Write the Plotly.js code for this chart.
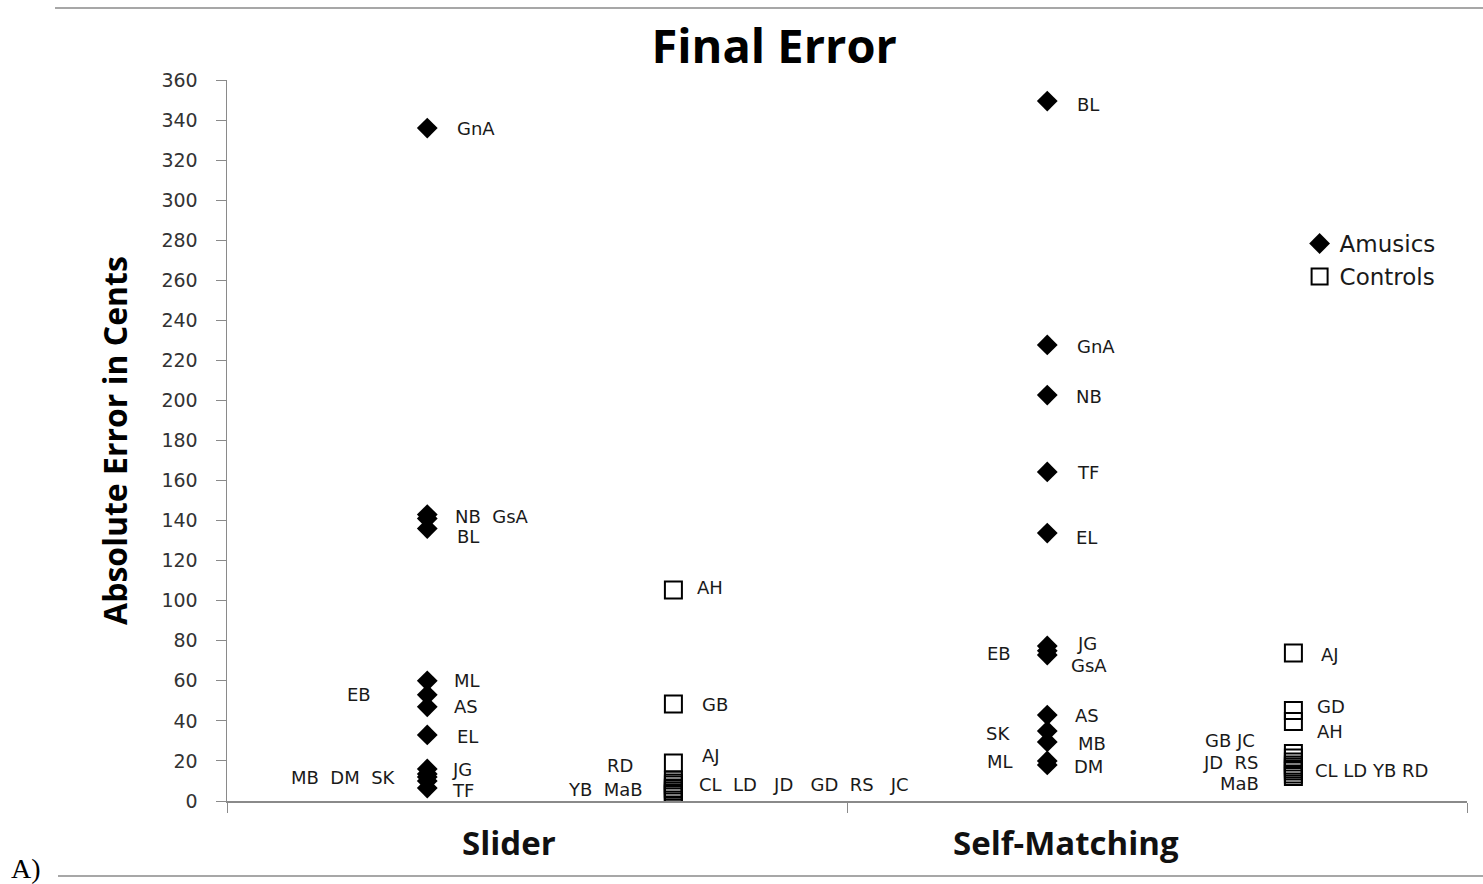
<!DOCTYPE html>
<html>
<head>
<meta charset="utf-8">
<script src="https://cdn.plot.ly/plotly-3.0.1.min.js"></script>
<style>html,body{margin:0;padding:0;background:#fff;}#chart{width:1483px;height:884px;}</style>
</head>
<body>
<div id="chart"></div>
<script>
// ---- data ----
var categories = ['Slider', 'Self-Matching'];
var seriesNames = ['Amusics', 'Controls'];

var sliderAmusicsNames  = ['GnA','NB','GsA','BL','ML','EB','AS','EL','JG','SK','DM','MB','TF'];
var sliderAmusicsValues = [336, 143, 141, 136, 60, 53, 47, 33, 16, 13.5, 12, 10, 6.5];

var sliderControlsNames  = ['AH','GB','AJ','RD','YB','MaB','CL','LD','JD','GD','RS','JC'];
var sliderControlsValues = [105.3, 48.4, 19, 10.5, 9, 8, 6.5, 6, 5, 4, 3.5, 3];

var selfAmusicsNames  = ['BL','GnA','NB','TF','EL','JG','EB','GsA','AS','SK','MB','ML','DM'];
var selfAmusicsValues = [349.5, 227.7, 202.7, 164.3, 133.8, 77.4, 75, 72.9, 42.9, 34.9, 29.5, 20, 18];

var selfControlsNames  = ['AJ','GD','AH','GB','JC','JD','RS','MaB','CL','LD','YB','RD'];
var selfControlsValues = [73.9, 45.2, 39.7, 23.7, 21.5, 19.5, 18, 17, 16, 15, 13.5, 12.2];

var yTickValues = [0,20,40,60,80,100,120,140,160,180,200,220,240,260,280,300,320,340,360];

// ---- layout helpers ----
var groupOffset = {Amusics: -0.177, Controls: 0.22};
function xFor(catIndex, series) { return catIndex + 0.5 + groupOffset[series]; }
function filled(n, v) { var a = []; for (var i = 0; i < n; i++) a.push(v); return a; }

var groups = {
  sA: {cat: 0, series: 'Amusics',  names: sliderAmusicsNames,  values: sliderAmusicsValues},
  sC: {cat: 0, series: 'Controls', names: sliderControlsNames, values: sliderControlsValues},
  mA: {cat: 1, series: 'Amusics',  names: selfAmusicsNames,    values: selfAmusicsValues},
  mC: {cat: 1, series: 'Controls', names: selfControlsNames,   values: selfControlsValues}
};

var diamondMarker = {symbol: 'diamond', size: 16, color: '#000', line: {width: 0}};
var squareMarker  = {symbol: 'square', size: 17, color: 'rgba(255,255,255,0)', line: {color: '#000', width: 2}};

var traces = [
  {type: 'scatter', mode: 'markers', name: seriesNames[0],
   x: filled(sliderAmusicsValues.length, xFor(0,'Amusics')).concat(filled(selfAmusicsValues.length, xFor(1,'Amusics'))),
   y: sliderAmusicsValues.concat(selfAmusicsValues),
   text: sliderAmusicsNames.concat(selfAmusicsNames),
   marker: diamondMarker, hoverinfo: 'text+y'},
  {type: 'scatter', mode: 'markers', name: seriesNames[1],
   x: filled(sliderControlsValues.length, xFor(0,'Controls')).concat(filled(selfControlsValues.length, xFor(1,'Controls'))),
   y: sliderControlsValues.concat(selfControlsValues),
   text: sliderControlsNames.concat(selfControlsNames),
   marker: squareMarker, hoverinfo: 'text+y'}
];

// label groups: which points a text refers to, on which side, pixel nudges
var S = '\u00a0';
var S2 = S + S;
var labelSpecs = [
  ['sA', ['GnA'], 'r', 28, 0],
  ['sA', ['NB','GsA'], 'r', 26, 0, 'NB' + S2 + 'GsA'],
  ['sA', ['BL'], 'r', 28, -8],
  ['sA', ['ML'], 'r', 25, 0],
  ['sA', ['EB'], 'l', -54, 0],
  ['sA', ['AS'], 'r', 25, 0],
  ['sA', ['EL'], 'r', 28, -2],
  ['sA', ['MB','DM','SK'], 'l', -29, 0, 'MB' + S2 + 'DM' + S2 + 'SK'],
  ['sA', ['JG'], 'r', 23, -1],
  ['sA', ['TF'], 'r', 23, -3],

  ['sC', ['AH'], 'r', 22, 3],
  ['sC', ['GB'], 'r', 27, 0],
  ['sC', ['AJ'], 'r', 27, 7],
  ['sC', ['RD'], 'l', -38, 14],
  ['sC', ['YB','MaB'], 'l', -28, -6, 'YB' + S2 + 'MaB'],
  ['sC', ['CL','LD','JD','GD','RS','JC'], 'r', 24, 7, 'CL' + S2 + 'LD' + S2 + S + 'JD' + S2 + S + 'GD' + S2 + 'RS' + S2 + S + 'JC'],

  ['mA', ['BL'], 'r', 28, -3],
  ['mA', ['GnA'], 'r', 28, -2],
  ['mA', ['NB'], 'r', 27, -1],
  ['mA', ['TF'], 'r', 28, -1],
  ['mA', ['EL'], 'r', 27, -4],
  ['mA', ['JG'], 'r', 28, 2],
  ['mA', ['EB'], 'l', -34, -3],
  ['mA', ['GsA'], 'r', 22, -10],
  ['mA', ['AS'], 'r', 26, 0],
  ['mA', ['SK'], 'l', -35, -2],
  ['mA', ['MB'], 'r', 29, -2],
  ['mA', ['ML'], 'l', -32, -1],
  ['mA', ['DM'], 'r', 25, -2],

  ['mC', ['AJ'], 'r', 26, -2],
  ['mC', ['GD'], 'r', 22, 4],
  ['mC', ['AH'], 'r', 22, -10],
  ['mC', ['GB','JC'], 'l', -36, 15, 'GB' + S + 'JC'],
  ['mC', ['JD','RS'], 'l', -32, 1, 'JD' + S2 + 'RS'],
  ['mC', ['MaB'], 'l', -32, -17],
  ['mC', ['CL','LD','YB','RD'], 'r', 20, 2, 'CL' + S + 'LD' + S + 'YB' + S + 'RD']
];

var labelFont = {family: 'DejaVu Sans, Verdana, sans-serif', size: 18, color: '#1a1a1a'};
var annotations = labelSpecs.map(function (s) {
  var g = groups[s[0]];
  var sum = 0;
  s[1].forEach(function (n) { sum += g.values[g.names.indexOf(n)]; });
  return {
    xref: 'x', yref: 'y', x: xFor(g.cat, g.series), y: sum / s[1].length,
    text: s[5] || s[1].join(S), showarrow: false,
    xanchor: s[2] === 'r' ? 'left' : 'right', yanchor: 'middle',
    xshift: s[3], yshift: s[4], font: labelFont
  };
});

// category labels under the axis
var catShift = [-28, -91];
categories.forEach(function (c, i) {
  annotations.push({xref: 'x', yref: 'paper', x: i + 0.5, y: -0.057, xshift: catShift[i],
    text: '<b>' + c + '</b>', showarrow: false, xanchor: 'center', yanchor: 'middle',
    font: {family: 'Open Sans, Lato, sans-serif', size: 33, color: '#111'}});
});

// panel tag
annotations.push({xref: 'paper', yref: 'paper', x: -0.176, y: -0.094, text: 'A)', showarrow: false,
  xanchor: 'left', yanchor: 'middle', font: {family: 'Liberation Serif, Times New Roman, serif', size: 28, color: '#000'}});

var layout = {
  width: 1483, height: 884,
  margin: {l: 227, r: 16, t: 80, b: 83},
  paper_bgcolor: '#fff', plot_bgcolor: '#fff',
  showlegend: true,
  title: {text: '<b>Final Error</b>', x: 0.522, xanchor: 'center', y: 0.947, yanchor: 'middle',
          font: {family: 'Open Sans, sans-serif', size: 47, color: '#000'}},
  xaxis: {range: [0, 2], showgrid: false, zeroline: false, showline: true, linecolor: '#8a8a8a', linewidth: 1.5,
          tickmode: 'array', tickvals: [0, 1, 2], ticktext: ['', '', ''], ticks: 'outside', ticklen: 10,
          tickcolor: '#8a8a8a', fixedrange: true},
  yaxis: {range: [0, 360], showgrid: false, zeroline: false, showline: true, linecolor: '#8a8a8a', linewidth: 1.5,
          tickmode: 'array', tickvals: yTickValues, ticks: 'outside', ticklen: 10, tickcolor: '#8a8a8a',
          ticklabelstandoff: 14,
          tickfont: {family: 'DejaVu Sans, Verdana, sans-serif', size: 19, color: '#333'},
          title: {text: '<b>Absolute Error in Cents</b>', standoff: 24,
                  font: {family: 'Open Sans, sans-serif', size: 32, color: '#000'}},
          fixedrange: true},
  legend: {x: 0.865, y: 0.803, xanchor: 'left', yanchor: 'top', bgcolor: 'rgba(0,0,0,0)', tracegroupgap: 0,
           font: {family: 'DejaVu Sans, Verdana, sans-serif', size: 23, color: '#1a1a1a'}},
  shapes: [
    {type: 'line', xref: 'paper', yref: 'paper', x0: -0.1387, x1: 1.0129, y0: 1.0999, y1: 1.0999,
     line: {color: '#8a8a8a', width: 1.5}},
    {type: 'line', xref: 'paper', yref: 'paper', x0: -0.1363, x1: 1.0129, y0: -0.104, y1: -0.104,
     line: {color: '#8a8a8a', width: 1.5}}
  ],
  annotations: annotations
};

Plotly.newPlot('chart', traces, layout, {displayModeBar: false, staticPlot: true});
</script>
</body>
</html>
